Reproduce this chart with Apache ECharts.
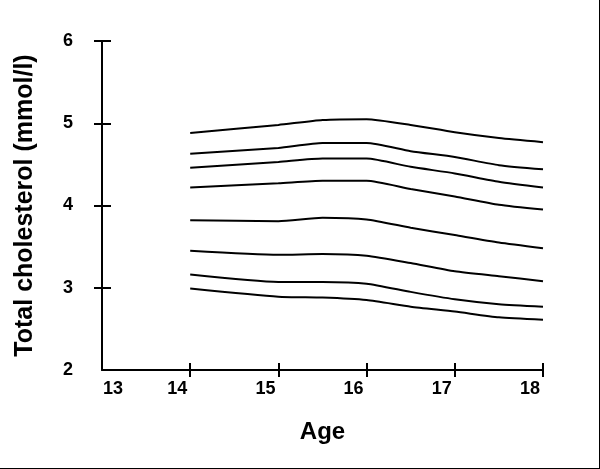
<!DOCTYPE html>
<html>
<head>
<meta charset="utf-8">
<title>Total cholesterol by age</title>
<script src="https://cdn.jsdelivr.net/npm/echarts@6/dist/echarts.min.js"></script>
<style>
    html, body { margin: 0; padding: 0; background: #fff; }
    #chart { width: 600px; height: 469px; }
</style>
</head>
<body>
<div id="chart"></div>
<script>
// ages where the curves were read
const ages = [14, 15, 15.5, 16, 16.5, 17, 17.5, 18];

// curves, top to bottom (mmol/l)
const curve1 = [4.88, 4.98, 5.04, 5.05, 4.98, 4.89, 4.82, 4.77];
const curve2 = [4.63, 4.70, 4.76, 4.76, 4.66, 4.59, 4.49, 4.44];
const curve3 = [4.46, 4.53, 4.57, 4.57, 4.47, 4.39, 4.29, 4.22];
const curve4 = [4.22, 4.27, 4.30, 4.30, 4.20, 4.11, 4.01, 3.95];
const curve5 = [3.82, 3.81, 3.85, 3.83, 3.73, 3.64, 3.55, 3.48];
const curve6 = [3.45, 3.40, 3.41, 3.39, 3.30, 3.20, 3.14, 3.08];
const curve7 = [3.16, 3.07, 3.07, 3.05, 2.95, 2.86, 2.80, 2.77];
const curve8 = [2.99, 2.89, 2.88, 2.85, 2.77, 2.71, 2.64, 2.61];

const curves = [curve1, curve2, curve3, curve4, curve5, curve6, curve7, curve8];

// tick labels
const xTicks = [13, 14, 15, 16, 17, 18];
const yTicks = [2, 3, 4, 5, 6];

const FONT = '"Liberation Sans", Arial, sans-serif';
const LABEL_SIZE = 18;

const chart = echarts.init(document.getElementById('chart'));

function makeSeries(values, i) {
    return {
        name: 'curve ' + (i + 1),
        type: 'line',
        smooth: 0.2,
        showSymbol: false,
        data: ages.map((a, j) => [a, values[j]]),
        lineStyle: { color: '#000', width: 2 },
        itemStyle: { color: '#000' }
    };
}

const labelText = { fontFamily: FONT, fontSize: LABEL_SIZE, fontWeight: 'bold', color: '#000' };

const option = {
    animation: false,
    backgroundColor: '#fff',
    grid: {
        left: 102,
        right: 57,
        top: 41,
        bottom: 99,
        outerBoundsMode: 'none'
    },
    xAxis: [
        {
            type: 'value',
            min: xTicks[0],
            max: xTicks[xTicks.length - 1],
            interval: 1,
            name: 'Age',
            nameLocation: 'middle',
            nameGap: 50,
            nameTextStyle: { fontFamily: FONT, fontSize: 24, fontWeight: 'bold', color: '#000' },
            axisLine: { show: true, lineStyle: { color: '#000', width: 2 } },
            axisTick: { show: true, length: 7, lineStyle: { color: '#000', width: 2 }, customValues: xTicks.slice(1) },
            axisLabel: Object.assign({
                customValues: xTicks,
                margin: 10,
                formatter: v => (v === xTicks[0] ? '{first|' + v + '}' : '{rest|' + v + '}'),
                rich: {
                    first: Object.assign({ padding: [0, 0, 0, 22] }, labelText),
                    rest: Object.assign({ padding: [0, 26, 0, 0] }, labelText)
                }
            }, labelText),
            splitLine: { show: false }
        },
        {
            // inner half of the crossing ticks
            type: 'value',
            position: 'bottom',
            min: xTicks[0],
            max: xTicks[xTicks.length - 1],
            interval: 1,
            axisLine: { show: false },
            axisTick: { show: true, inside: true, length: 7, lineStyle: { color: '#000', width: 2 }, customValues: xTicks.slice(1) },
            axisLabel: { show: false },
            splitLine: { show: false }
        }
    ],
    yAxis: [
        {
            type: 'value',
            min: yTicks[0],
            max: yTicks[yTicks.length - 1],
            interval: 1,
            name: 'Total cholesterol (mmol/l)',
            nameLocation: 'middle',
            nameGap: 64,
            nameTextStyle: { fontFamily: FONT, fontSize: 25, fontWeight: 'bold', color: '#000' },
            axisLine: { show: true, lineStyle: { color: '#000', width: 2 } },
            axisTick: { show: true, length: 8, lineStyle: { color: '#000', width: 2 }, customValues: yTicks.slice(1) },
            axisLabel: Object.assign({
                customValues: yTicks,
                margin: 29,
                padding: [0, 0, 6, 0]
            }, labelText),
            splitLine: { show: false }
        },
        {
            type: 'value',
            position: 'left',
            min: yTicks[0],
            max: yTicks[yTicks.length - 1],
            interval: 1,
            axisLine: { show: false },
            axisTick: { show: true, inside: true, length: 9, lineStyle: { color: '#000', width: 2 }, customValues: yTicks.slice(1) },
            axisLabel: { show: false },
            splitLine: { show: false }
        }
    ],
    // frame on the right and bottom edges
    graphic: [
        { type: 'line', shape: { x1: 599.5, y1: 0, x2: 599.5, y2: 469 }, style: { stroke: '#000', lineWidth: 1 } },
        { type: 'line', shape: { x1: 0, y1: 468.5, x2: 600, y2: 468.5 }, style: { stroke: '#000', lineWidth: 1 } }
    ],
    series: curves.map(makeSeries)
};

chart.setOption(option);
</script>
</body>
</html>
